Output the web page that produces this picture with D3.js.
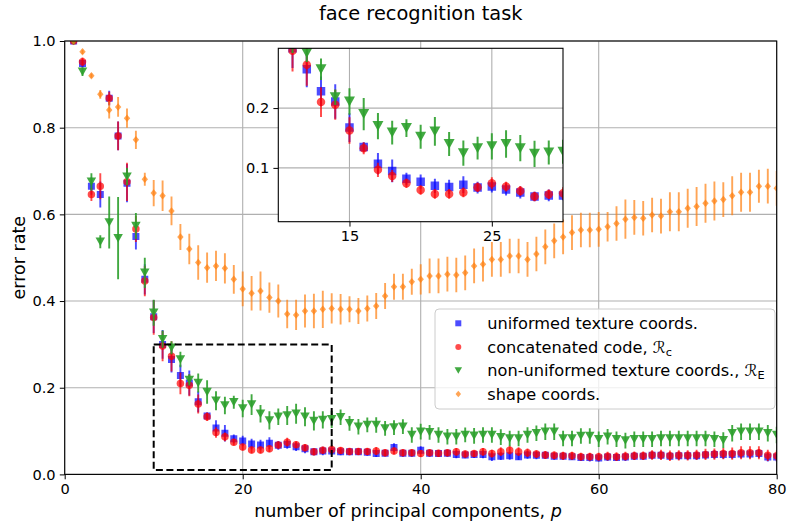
<!DOCTYPE html>
<html>
<head>
<meta charset="utf-8">
<script src="https://cdn.jsdelivr.net/npm/d3@7/dist/d3.min.js"></script>
<style>
  html, body { margin: 0; padding: 0; background: #fff; }
  svg { display: block; font-family: "DejaVu Sans", sans-serif; }
</style>
</head>
<body>
<svg id="chart" width="789" height="523"></svg>
<script>
// Number of principal components p
const pValues = [1,2,3,4,5,6,7,8,9,10,11,12,13,14,15,16,17,18,19,20,
  21,22,23,24,25,26,27,28,29,30,31,32,33,34,35,36,37,38,39,40,
  41,42,43,44,45,46,47,48,49,50,51,52,53,54,55,56,57,58,59,60,
  61,62,63,64,65,66,67,68,69,70,71,72,73,74,75,76,77,78,79,80];

// uniformed texture coords.
const uniformErr = [1.0,0.948,0.665,0.646,0.868,0.781,0.672,0.549,0.450,0.364,
  0.300,0.265,0.228,0.211,0.1675,0.135,0.107,0.095,0.082,0.077,
  0.070,0.068,0.072,0.067,0.069,0.064,0.059,0.052,0.054,0.054,
  0.052,0.052,0.052,0.051,0.048,0.049,0.062,0.049,0.049,0.056,
  0.049,0.048,0.049,0.046,0.045,0.046,0.046,0.041,0.042,0.043,
  0.041,0.045,0.044,0.044,0.042,0.042,0.041,0.039,0.039,0.038,
  0.040,0.039,0.040,0.042,0.042,0.044,0.044,0.042,0.043,0.043,
  0.043,0.045,0.046,0.046,0.046,0.047,0.047,0.048,0.040,0.040];
const uniformSd = [0,0.010,0.020,0.030,0.017,0.033,0.044,0.030,0.035,0.038,
  0.033,0.030,0.025,0.029,0.024,0.008,0.018,0.019,0.010,0.012,
  0.012,0.012,0.014,0.010,0.010,0.010,0.010,0.008,0.010,0.008,
  0.008,0.008,0.007,0.008,0.008,0.007,0.010,0.008,0.008,0.009,
  0.008,0.008,0.008,0.009,0.008,0.008,0.009,0.010,0.009,0.009,
  0.008,0.009,0.009,0.008,0.008,0.008,0.008,0.008,0.009,0.008,
  0.009,0.008,0.009,0.009,0.008,0.009,0.009,0.009,0.009,0.009,
  0.009,0.009,0.010,0.010,0.010,0.010,0.010,0.010,0.010,0.010];

// concatenated code, R_c
const concatErr = [1.0,0.952,0.646,0.665,0.868,0.781,0.675,0.566,0.446,0.362,
  0.296,0.2725,0.210,0.2055,0.1625,0.133,0.0967,0.0866,0.0744,0.063,
  0.0565,0.0565,0.059,0.0677,0.0744,0.0687,0.0615,0.052,0.056,0.0576,
  0.055,0.053,0.053,0.053,0.054,0.050,0.054,0.050,0.050,0.048,
  0.050,0.049,0.050,0.052,0.047,0.048,0.052,0.048,0.0524,0.056,
  0.0524,0.050,0.047,0.045,0.044,0.043,0.043,0.041,0.041,0.041,
  0.042,0.041,0.042,0.043,0.043,0.045,0.045,0.043,0.044,0.044,
  0.045,0.046,0.047,0.048,0.048,0.050,0.050,0.050,0.044,0.043];
const concatSd = [0,0.010,0.015,0.030,0.015,0.033,0.044,0.030,0.035,0.040,
  0.035,0.035,0.025,0.025,0.022,0.010,0.012,0.010,0.008,0.008,
  0.008,0.008,0.008,0.008,0.010,0.008,0.008,0.008,0.008,0.010,
  0.008,0.008,0.008,0.008,0.009,0.008,0.008,0.008,0.008,0.008,
  0.008,0.008,0.008,0.009,0.008,0.008,0.009,0.009,0.010,0.010,
  0.010,0.010,0.009,0.009,0.009,0.009,0.009,0.009,0.009,0.009,
  0.010,0.010,0.010,0.010,0.010,0.011,0.012,0.012,0.012,0.012,
  0.012,0.013,0.013,0.013,0.014,0.015,0.015,0.015,0.013,0.012];

// non-uniformed texture coords., R_E
const nonUniformErr = [1.0,0.929,0.675,0.537,0.581,0.545,0.687,0.573,0.465,0.373,
  0.312,0.292,0.265,0.218,0.211,0.190,0.170,0.159,0.1665,0.152,
  0.161,0.140,0.1246,0.133,0.136,0.140,0.133,0.1235,0.1257,0.127,
  0.1317,0.118,0.110,0.114,0.114,0.106,0.108,0.110,0.091,0.0986,
  0.097,0.091,0.087,0.087,0.091,0.089,0.091,0.091,0.086,0.083,
  0.083,0.091,0.095,0.0986,0.0986,0.083,0.083,0.0886,0.0886,0.081,
  0.087,0.081,0.078,0.081,0.081,0.081,0.083,0.083,0.083,0.083,
  0.083,0.083,0.081,0.079,0.095,0.0986,0.0986,0.0986,0.095,0.091];
const nonUniformSd = [0,0.010,0.020,0.015,0.060,0.095,0.020,0.030,0.035,0.030,
  0.020,0.015,0.018,0.013,0.022,0.027,0.022,0.020,0.015,0.020,
  0.024,0.020,0.021,0.019,0.022,0.023,0.022,0.022,0.020,0.020,
  0.018,0.017,0.018,0.017,0.018,0.017,0.017,0.017,0.018,0.018,
  0.017,0.018,0.018,0.018,0.017,0.018,0.018,0.018,0.018,0.018,
  0.018,0.018,0.018,0.019,0.019,0.018,0.018,0.018,0.018,0.018,
  0.018,0.018,0.018,0.018,0.018,0.018,0.018,0.018,0.018,0.018,
  0.018,0.018,0.018,0.018,0.019,0.019,0.019,0.019,0.019,0.019];

// shape coords.
const shapeErr = [1.0,0.975,0.920,0.877,0.841,0.848,0.822,0.772,0.681,0.649,
  0.643,0.608,0.548,0.520,0.489,0.477,0.481,0.4755,0.450,0.428,
  0.418,0.423,0.408,0.400,0.370,0.368,0.377,0.377,0.381,0.383,
  0.381,0.381,0.377,0.383,0.3885,0.4116,0.433,0.433,0.4447,0.450,
  0.458,0.458,0.462,0.460,0.465,0.481,0.485,0.496,0.496,0.504,
  0.504,0.496,0.5085,0.525,0.539,0.548,0.558,0.564,0.564,0.5655,
  0.5715,0.579,0.589,0.593,0.591,0.5985,0.596,0.606,0.606,0.614,
  0.618,0.6255,0.631,0.634,0.643,0.651,0.651,0.665,0.665,0.660];
const shapeSd = [0,0.005,0.005,0.010,0.020,0.023,0.022,0.021,0.015,0.030,
  0.035,0.033,0.030,0.035,0.040,0.035,0.035,0.035,0.033,0.040,
  0.040,0.045,0.035,0.038,0.033,0.035,0.038,0.040,0.043,0.035,
  0.035,0.030,0.030,0.030,0.030,0.030,0.030,0.030,0.030,0.035,
  0.040,0.040,0.040,0.040,0.040,0.040,0.040,0.040,0.040,0.040,
  0.040,0.040,0.040,0.040,0.040,0.040,0.040,0.040,0.040,0.040,
  0.034,0.040,0.045,0.040,0.040,0.040,0.040,0.045,0.045,0.045,
  0.045,0.045,0.045,0.040,0.045,0.045,0.045,0.038,0.040,0.040];

// Axis ticks
const xTicks = [0, 20, 40, 60, 80];
const yTicks = [0.0, 0.2, 0.4, 0.6, 0.8, 1.0];
const insetXTicks = [15, 25];
const insetYTicks = [0.1, 0.2];
const zoomX = [10, 30];
const zoomY = [0.01, 0.30];

const labels = {
  title: "face recognition task",
  x: "number of principal components, ",
  y: "error rate"
};

const series = [
  { key: "uniform",    values: uniformErr,    sd: uniformSd,    color: "#0000ff", alpha: 0.7,  shape: "square" },
  { key: "concat",     values: concatErr,     sd: concatSd,     color: "#ff0000", alpha: 0.7,  shape: "circle" },
  { key: "nonuniform", values: nonUniformErr, sd: nonUniformSd, color: "#2ca02c", alpha: 0.9,  shape: "triangle" },
  { key: "shape",      values: shapeErr,      sd: shapeSd,      color: "#ff7f0e", alpha: 0.7,  shape: "diamond" }
];

const svg = d3.select("#chart");
const FONT_TICK = 14.6, FONT_LEGEND = 16.2, FONT_LABEL = 17.5, FONT_TITLE = 19.4;
const GRID = "#b0b0b0";

const main = { left: 64.7, right: 776.7, top: 41, bottom: 474.4 };
const x = d3.scaleLinear().domain([0, 80]).range([main.left, main.right]);
const y = d3.scaleLinear().domain([0, 1]).range([main.bottom, main.top]);

const ins = { left: 278.3, right: 563, top: 48.3, bottom: 221.7 };
const xi = d3.scaleLinear().domain(zoomX).range([ins.left, ins.right]);
const yi = d3.scaleLinear().domain(zoomY).range([ins.bottom, ins.top]);

const defs = svg.append("defs");
defs.append("clipPath").attr("id", "clipMain").append("rect")
  .attr("x", main.left).attr("y", main.top)
  .attr("width", main.right - main.left).attr("height", main.bottom - main.top);
defs.append("clipPath").attr("id", "clipInset").append("rect")
  .attr("x", ins.left).attr("y", ins.top)
  .attr("width", ins.right - ins.left).attr("height", ins.bottom - ins.top);

// marker geometry for one panel
function markerPath(shape, cx, cy, s) {
  if (shape === "square") {
    const h = s.sq / 2;
    return `M${cx - h},${cy - h}h${2 * h}v${2 * h}h${-2 * h}Z`;
  }
  if (shape === "circle") {
    const r = s.ci / 2;
    return `M${cx - r},${cy}a${r},${r} 0 1,0 ${2 * r},0a${r},${r} 0 1,0 ${-2 * r},0Z`;
  }
  if (shape === "triangle") {
    const w = s.tw / 2, h = s.th / 2;
    return `M${cx - w},${cy - h}L${cx + w},${cy - h}L${cx},${cy + h}Z`;
  }
  const d = s.di / 2;
  return `M${cx},${cy - d}L${cx + d * 0.85},${cy}L${cx},${cy + d}L${cx - d * 0.85},${cy}Z`;
}

function drawSeries(g, xs, ys, s) {
  series.forEach(ser => {
    const pts = pValues.map((p, i) => ({ p, v: ser.values[i], e: ser.sd[i] }));
    const sg = g.append("g").attr("class", "series-" + ser.key);
    sg.selectAll("line.err").data(pts.filter(d => d.e > 0)).join("line")
      .attr("class", "err")
      .attr("x1", d => xs(d.p)).attr("x2", d => xs(d.p))
      .attr("y1", d => ys(d.v - d.e)).attr("y2", d => ys(d.v + d.e))
      .attr("stroke", ser.color).attr("stroke-opacity", ser.alpha)
      .attr("stroke-width", s.lw);
    sg.selectAll("path.mk").data(pts).join("path")
      .attr("class", "mk")
      .attr("d", d => markerPath(ser.shape, xs(d.p), ys(d.v), s))
      .attr("fill", ser.color).attr("fill-opacity", ser.alpha);
  });
}

function styleAxis(a) {
  a.select(".domain").remove();
  a.selectAll(".tick line").attr("stroke", "#000").attr("stroke-width", 1);
  a.selectAll(".tick text").attr("font-size", FONT_TICK).attr("fill", "#000")
    .attr("font-family", "DejaVu Sans");
}

// ---------- main axes ----------
const grid = svg.append("g").attr("class", "grid");
grid.selectAll("line.gx").data(xTicks).join("line")
  .attr("x1", d => x(d)).attr("x2", d => x(d))
  .attr("y1", main.top).attr("y2", main.bottom)
  .attr("stroke", GRID).attr("stroke-width", 1.1);
grid.selectAll("line.gy").data(yTicks).join("line")
  .attr("x1", main.left).attr("x2", main.right)
  .attr("y1", d => y(d)).attr("y2", d => y(d))
  .attr("stroke", GRID).attr("stroke-width", 1.1);

const plot = svg.append("g").attr("clip-path", "url(#clipMain)");
drawSeries(plot, x, y, { sq: 7, ci: 7.5, tw: 9.5, th: 8.5, di: 7.5, lw: 1.9 });

// zoom region marker
svg.append("rect")
  .attr("x", x(zoomX[0])).attr("y", y(zoomY[1]))
  .attr("width", x(zoomX[1]) - x(zoomX[0]))
  .attr("height", y(zoomY[0]) - y(zoomY[1]))
  .attr("fill", "none").attr("stroke", "#000")
  .attr("stroke-width", 2).attr("stroke-dasharray", "7,3.5");

// axes
const xAxis = svg.append("g").attr("transform", `translate(0,${main.bottom})`)
  .call(d3.axisBottom(x).tickValues(xTicks).tickFormat(d3.format("d")).tickSize(4.9).tickPadding(4.2));
const yAxis = svg.append("g").attr("transform", `translate(${main.left},0)`)
  .call(d3.axisLeft(y).tickValues(yTicks).tickFormat(d3.format(".1f")).tickSize(4.9).tickPadding(4.2));
styleAxis(xAxis);
styleAxis(yAxis);

svg.append("rect")
  .attr("x", main.left).attr("y", main.top)
  .attr("width", main.right - main.left).attr("height", main.bottom - main.top)
  .attr("fill", "none").attr("stroke", "#000").attr("stroke-width", 1.1);

// title and axis labels
svg.append("text").attr("x", (main.left + main.right) / 2).attr("y", 20)
  .attr("text-anchor", "middle").attr("font-size", FONT_TITLE).text(labels.title);
const xl = svg.append("text").attr("x", 408).attr("y", 517)
  .attr("text-anchor", "middle").attr("font-size", FONT_LABEL);
xl.append("tspan").text(labels.x);
xl.append("tspan").attr("font-style", "italic").text("p");
svg.append("text")
  .attr("transform", `translate(25,${(main.top + main.bottom) / 2}) rotate(-90)`)
  .attr("text-anchor", "middle").attr("font-size", FONT_LABEL).text(labels.y);

// ---------- legend ----------
const legendRows = [
  { shape: "square",   color: "#0000ff", alpha: 0.7, parts: [["uniformed texture coords."]] },
  { shape: "circle",   color: "#ff0000", alpha: 0.7, parts: [["concatenated code, "], ["ℛ", "cal"], ["c", "sub"]] },
  { shape: "triangle", color: "#2ca02c", alpha: 0.9, parts: [["non-uniformed texture coords., "], ["ℛ", "cal"], ["E", "sub"]] },
  { shape: "diamond",  color: "#ff7f0e", alpha: 0.7, parts: [["shape coords."]] }
];
const lg = svg.append("g").attr("class", "legend");
lg.append("rect").attr("x", 435).attr("y", 309).attr("width", 340).attr("height", 100)
  .attr("rx", 4).attr("fill", "#fff").attr("fill-opacity", 0.8)
  .attr("stroke", "#cccccc").attr("stroke-width", 1);
legendRows.forEach((r, i) => {
  const cy = 323.3 + i * 23.6;
  lg.append("path")
    .attr("d", markerPath(r.shape, 458.3, cy, { sq: 6, ci: 6, tw: 7.5, th: 6.5, di: 6.5 }))
    .attr("fill", r.color).attr("fill-opacity", r.alpha);
  const t = lg.append("text").attr("x", 487.3).attr("y", cy + 5.6).attr("font-size", FONT_LEGEND);
  r.parts.forEach(([txt, kind]) => {
    const ts = t.append("tspan").text(txt);
    if (kind === "cal") ts.attr("font-family", "DejaVu Sans");
    if (kind === "sub") ts.attr("font-size", 11.3).attr("dy", 3);
  });
});

// ---------- inset ----------
const inset = svg.append("g").attr("class", "inset");
inset.append("rect").attr("x", ins.left).attr("y", ins.top)
  .attr("width", ins.right - ins.left).attr("height", ins.bottom - ins.top)
  .attr("fill", "#fff");
inset.selectAll("line.gx").data(insetXTicks).join("line")
  .attr("x1", d => xi(d)).attr("x2", d => xi(d))
  .attr("y1", ins.top).attr("y2", ins.bottom)
  .attr("stroke", GRID).attr("stroke-width", 1.1);
inset.selectAll("line.gy").data(insetYTicks).join("line")
  .attr("x1", ins.left).attr("x2", ins.right)
  .attr("y1", d => yi(d)).attr("y2", d => yi(d))
  .attr("stroke", GRID).attr("stroke-width", 1.1);
const iplot = inset.append("g").attr("clip-path", "url(#clipInset)");
drawSeries(iplot, xi, yi, { sq: 8.5, ci: 8.5, tw: 11, th: 10, di: 8.5, lw: 2 });

const ixAxis = inset.append("g").attr("transform", `translate(0,${ins.bottom})`)
  .call(d3.axisBottom(xi).tickValues(insetXTicks).tickFormat(d3.format("d")).tickSize(4.9).tickPadding(4.2));
const iyAxis = inset.append("g").attr("transform", `translate(${ins.left},0)`)
  .call(d3.axisLeft(yi).tickValues(insetYTicks).tickFormat(d3.format(".1f")).tickSize(4.9).tickPadding(4.2));
styleAxis(ixAxis);
styleAxis(iyAxis);
inset.append("rect").attr("x", ins.left).attr("y", ins.top)
  .attr("width", ins.right - ins.left).attr("height", ins.bottom - ins.top)
  .attr("fill", "none").attr("stroke", "#000").attr("stroke-width", 1.1);
</script>
</body>
</html>
